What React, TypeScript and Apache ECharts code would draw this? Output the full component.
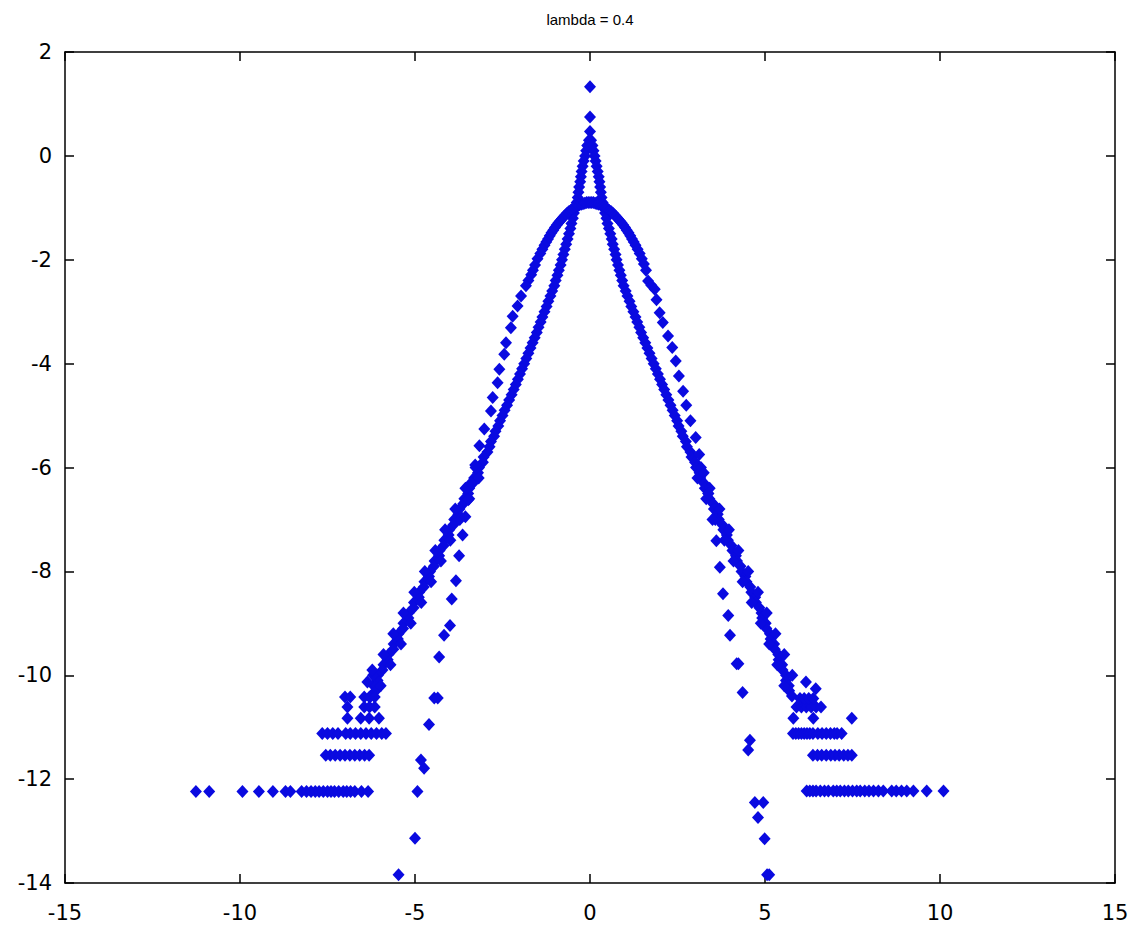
import React, { useEffect, useRef } from "react";
import * as echarts from "echarts";

const titleText = "lambda = 0.4";

// Dense (heavy-tailed) band: shared y values, left and right x positions
const bandY = [
  0.3, 0.2, 0.1, 0, -0.1, -0.2, -0.3, -0.4, -0.5, -0.6,
  -0.7, -0.8, -0.9, -1.0, -1.1, -1.2, -1.3, -1.4, -1.5, -1.6,
  -1.7, -1.8, -1.9, -2.0, -2.1, -2.2, -2.3, -2.4, -2.5, -2.6,
  -2.7, -2.8, -2.9, -3.0, -3.1, -3.2, -3.3, -3.4, -3.5, -3.6,
  -3.7, -3.8, -3.9, -4.0, -4.1, -4.2, -4.3, -4.4, -4.5, -4.6,
  -4.7, -4.8, -4.9, -5.0, -5.1, -5.2, -5.3, -5.4, -5.5, -5.6,
  -5.7, -5.8, -5.9, -6.0, -6.1, -6.2, -6.3, -6.4, -6.5, -6.6,
  -6.7, -6.8, -6.9, -7.0, -7.1, -7.2, -7.3, -7.4, -7.5, -7.6,
  -7.7, -7.8, -7.9, -8.0, -8.1, -8.2, -8.3, -8.4, -8.5, -8.6,
  -8.7, -8.8, -8.9, -9.0, -9.1, -9.2, -9.3, -9.4, -9.5, -9.6,
  -9.7, -9.8, -9.9, -10.0, -10.1, -10.2, -10.3, -10.4,
];
const bandLeftX = [
  -0.03, -0.08, -0.11, -0.14, -0.18, -0.21, -0.24, -0.26, -0.28, -0.31,
  -0.33, -0.35, -0.38, -0.42, -0.46, -0.49, -0.53, -0.56, -0.6, -0.64,
  -0.68, -0.72, -0.76, -0.8, -0.84, -0.89, -0.93, -0.98, -1.02, -1.08,
  -1.13, -1.19, -1.24, -1.3, -1.36, -1.41, -1.47, -1.52, -1.58, -1.64,
  -1.7, -1.76, -1.82, -1.88, -1.94, -2.0, -2.06, -2.12, -2.18, -2.24,
  -2.31, -2.37, -2.44, -2.5, -2.57, -2.62, -2.7, -2.74, -2.83, -2.87,
  -2.93, -3.04, -3.06, -3.17, -3.2, -3.31, -3.34, -3.45, -3.48, -3.59,
  -3.62, -3.73, -3.76, -3.88, -3.9, -4.02, -4.04, -4.16, -4.18, -4.3,
  -4.31, -4.44, -4.46, -4.57, -4.6, -4.73, -4.75, -4.88, -4.89, -5.03,
  -5.04, -5.18, -5.19, -5.33, -5.34, -5.47, -5.49, -5.61, -5.62, -5.76,
  -5.78, -5.9, -5.93, -6.06, -6.07, -6.18, -6.12, -6.26,
];
const bandRightX = [
  0.03, 0.07, 0.1, 0.13, 0.16, 0.19, 0.22, 0.25, 0.27, 0.29,
  0.31, 0.33, 0.36, 0.4, 0.43, 0.47, 0.5, 0.54, 0.58, 0.62,
  0.65, 0.69, 0.73, 0.76, 0.8, 0.84, 0.88, 0.92, 0.96, 1.02,
  1.07, 1.13, 1.18, 1.24, 1.3, 1.35, 1.41, 1.46, 1.52, 1.58,
  1.64, 1.7, 1.76, 1.82, 1.88, 1.94, 2.0, 2.06, 2.12, 2.18,
  2.24, 2.3, 2.36, 2.42, 2.49, 2.53, 2.61, 2.65, 2.74, 2.77,
  2.87, 2.9, 3.0, 3.03, 3.13, 3.15, 3.25, 3.28, 3.38, 3.41,
  3.52, 3.54, 3.65, 3.68, 3.78, 3.81, 3.91, 3.94, 4.04, 4.07,
  4.17, 4.2, 4.3, 4.33, 4.44, 4.47, 4.58, 4.61, 4.72, 4.74,
  4.84, 4.9, 4.92, 5.02, 5.04, 5.14, 5.16, 5.26, 5.28, 5.38,
  5.39, 5.49, 5.5, 5.6, 5.6, 5.68, 5.69, 5.77,
];

const bandSpreadLeft = [
  [-3.27, -6.0], [-3.18, -6.2], [-3.56, -6.4], [-3.45, -6.6], [-3.85, -6.8],
  [-3.72, -7.0], [-4.14, -7.2], [-3.99, -7.4], [-4.42, -7.6], [-4.26, -7.8],
  [-4.72, -8.0], [-4.54, -8.2], [-5.02, -8.4], [-4.82, -8.6], [-5.33, -8.8],
  [-5.12, -9.0], [-5.62, -9.2], [-5.4, -9.4], [-5.9, -9.6], [-5.7, -9.8],
  [-6.2, -10.0], [-5.98, -10.2], [-6.22, -9.9], [-6.36, -10.13],
];
const bandSpreadRight = [
  [3.17, -6.0], [3.07, -6.2], [3.42, -6.4], [3.32, -6.6], [3.7, -6.8],
  [3.58, -7.0], [3.97, -7.2], [3.84, -7.4], [4.24, -7.6], [4.1, -7.8],
  [4.52, -8.0], [4.36, -8.2], [4.8, -8.4], [4.62, -8.6], [5.05, -8.8],
  [4.88, -9.0], [5.3, -9.2], [5.12, -9.4], [5.55, -9.6], [5.35, -9.8],
  [5.78, -10.0], [5.55, -10.2], [6.45, -10.26], [6.17, -10.13],
];

const peakPoints = [[0, 1.33], [0, 0.75], [0, 0.47]];

// Gaussian-like curve
const gaussTop = [
  [-0.35, -0.96], [-0.3, -0.94], [-0.25, -0.93], [-0.2, -0.92], [-0.15, -0.91],
  [-0.1, -0.9], [-0.05, -0.9], [0, -0.9], [0.05, -0.9], [0.1, -0.9],
  [0.15, -0.91], [0.2, -0.92], [0.25, -0.93], [0.3, -0.94], [0.35, -0.96],
];
const gaussLeft = [
  [-0.4, -0.98], [-0.45, -1.0], [-0.5, -1.02], [-0.55, -1.05], [-0.6, -1.07],
  [-0.65, -1.1], [-0.7, -1.14], [-0.75, -1.17], [-0.8, -1.21], [-0.85, -1.25],
  [-0.9, -1.29], [-0.95, -1.33], [-1.0, -1.38], [-1.05, -1.43], [-1.1, -1.48],
  [-1.15, -1.54], [-1.2, -1.6], [-1.25, -1.66], [-1.3, -1.72], [-1.36, -1.8],
  [-1.42, -1.88], [-1.5, -1.98], [-1.57, -2.1], [-1.63, -2.2], [-1.68, -2.29],
  [-1.76, -2.4], [-1.83, -2.5], [-1.97, -2.7], [-2.07, -2.89], [-2.21, -3.09],
  [-2.26, -3.31], [-2.4, -3.6], [-2.45, -3.82], [-2.59, -4.11], [-2.64, -4.37],
  [-2.78, -4.65], [-2.83, -4.91], [-3.02, -5.26], [-3.16, -5.58], [-3.28, -5.95],
  [-3.4, -6.3], [-3.48, -6.62], [-3.56, -6.95], [-3.64, -7.3], [-3.74, -7.7],
  [-3.83, -8.18], [-3.95, -8.53], [-4.0, -9.04], [-4.17, -9.23], [-4.31, -9.65],
  [-4.45, -10.44], [-4.35, -10.44], [-4.6, -10.95], [-4.83, -11.63], [-4.74, -11.79],
  [-4.93, -12.24], [-5.0, -13.14], [-5.47, -13.84],
];
const gaussRight = [
  [0.4, -0.98], [0.45, -1.0], [0.5, -1.02], [0.55, -1.05], [0.6, -1.07],
  [0.65, -1.1], [0.7, -1.14], [0.75, -1.17], [0.8, -1.21], [0.85, -1.25],
  [0.9, -1.29], [0.95, -1.33], [1.0, -1.38], [1.05, -1.43], [1.1, -1.48],
  [1.15, -1.54], [1.2, -1.6], [1.25, -1.66], [1.3, -1.72], [1.36, -1.8],
  [1.42, -1.88], [1.48, -1.98], [1.54, -2.08], [1.6, -2.2], [1.66, -2.41],
  [1.75, -2.49], [1.85, -2.57], [1.9, -2.77], [1.99, -3.02], [2.08, -3.21],
  [2.23, -3.47], [2.35, -3.69], [2.45, -3.95], [2.54, -4.24], [2.66, -4.53],
  [2.75, -4.8], [2.87, -5.1], [3.02, -5.42], [3.12, -5.75], [3.25, -6.1],
  [3.38, -6.5], [3.5, -7.0], [3.61, -7.41], [3.71, -7.92], [3.8, -8.43],
  [3.95, -8.85], [4.0, -9.23], [4.19, -9.78], [4.24, -9.78], [4.36, -10.33],
  [4.57, -11.25], [4.52, -11.44], [4.71, -12.45], [4.95, -12.45], [4.8, -12.74],
  [4.99, -13.15], [5.06, -13.84], [5.12, -13.84],
];

// Quantized tails (rows)
const tailLeft = [
  [-11.26, -12.24], [-10.88, -12.24], [-9.93, -12.24], [-9.46, -12.24], [-9.06, -12.24],
  [-8.7, -12.24], [-8.56, -12.24], [-8.24, -12.24], [-8.1, -12.24], [-7.97, -12.24],
  [-7.85, -12.24], [-7.74, -12.24], [-7.62, -12.24], [-7.5, -12.24], [-7.4, -12.24],
  [-7.3, -12.24], [-7.18, -12.24], [-7.05, -12.24], [-6.95, -12.24], [-6.84, -12.24],
  [-6.72, -12.24], [-6.53, -12.24], [-6.34, -12.24],
  [-7.55, -11.54], [-7.42, -11.54], [-7.28, -11.54], [-7.14, -11.54], [-7.0, -11.54],
  [-6.86, -11.54], [-6.72, -11.54], [-6.58, -11.54], [-6.44, -11.54], [-6.31, -11.54],
  [-7.65, -11.12], [-7.5, -11.12], [-7.35, -11.12], [-7.2, -11.12], [-6.98, -11.12],
  [-6.85, -11.12], [-6.7, -11.12], [-6.55, -11.12], [-6.4, -11.12], [-6.25, -11.12],
  [-6.1, -11.12], [-5.95, -11.12], [-5.83, -11.12],
  [-6.93, -10.83], [-6.55, -10.83], [-6.31, -10.83], [-6.03, -10.83],
  [-6.93, -10.61], [-6.45, -10.61], [-6.3, -10.61], [-6.15, -10.61],
  [-7.0, -10.42], [-6.85, -10.42], [-6.45, -10.42], [-6.3, -10.42], [-6.15, -10.42],
];
const tailRight = [
  [6.19, -12.23], [6.28, -12.23], [6.37, -12.23], [6.46, -12.23], [6.58, -12.23],
  [6.7, -12.23], [6.81, -12.23], [6.95, -12.23], [7.05, -12.23], [7.15, -12.23],
  [7.27, -12.23], [7.38, -12.23], [7.5, -12.23], [7.62, -12.23], [7.72, -12.23],
  [7.85, -12.23], [7.97, -12.23], [8.1, -12.23], [8.24, -12.23], [8.38, -12.23],
  [8.62, -12.23], [8.75, -12.23], [8.9, -12.23], [9.05, -12.23], [9.24, -12.23],
  [9.62, -12.23], [10.1, -12.23],
  [6.37, -11.54], [6.5, -11.54], [6.62, -11.54], [6.75, -11.54], [6.88, -11.54],
  [7.0, -11.54], [7.12, -11.54], [7.25, -11.54], [7.37, -11.54], [7.48, -11.54],
  [5.8, -11.12], [5.88, -11.12], [5.96, -11.12], [6.04, -11.12], [6.12, -11.12],
  [6.2, -11.12], [6.28, -11.12], [6.37, -11.12], [6.51, -11.12], [6.63, -11.12],
  [6.75, -11.12], [6.87, -11.12], [6.98, -11.12], [7.06, -11.12], [7.19, -11.12],
  [5.81, -10.83], [6.38, -10.83], [7.48, -10.83],
  [5.9, -10.61], [6.04, -10.61], [6.18, -10.61], [6.32, -10.61], [6.46, -10.61], [6.6, -10.61],
  [6.0, -10.45], [6.12, -10.45], [6.25, -10.45], [6.38, -10.45],
];

const xMin = -15;
const xMax = 15;
const xStep = 5;
const yMin = -14;
const yMax = 2;
const yStep = 2;

export default function App() {
  const ref = useRef<HTMLDivElement>(null);
  useEffect(() => {
    if (!ref.current) return;
    const chart = echarts.init(ref.current, null, { renderer: "svg" });
    const bandPoints = bandY.flatMap((y, i) => [
      [bandLeftX[i], y],
      [bandRightX[i], y],
    ]);
    const allPoints = [
      ...bandPoints,
      ...bandSpreadLeft,
      ...bandSpreadRight,
      ...peakPoints,
      ...gaussTop,
      ...gaussLeft,
      ...gaussRight,
      ...tailLeft,
      ...tailRight,
    ];
    const lineStyle = { color: "#000", width: 1.5 };
    const labelStyle = {
      color: "#000",
      fontSize: 21,
      fontFamily: "DejaVu Sans",
    };
    const common = {
      type: "value",
      splitLine: { show: false },
      axisLine: { show: true, onZero: false, lineStyle },
      axisTick: { show: true, inside: true, length: 9, lineStyle },
    };
    chart.setOption({
      animation: false,
      backgroundColor: "#fff",
      grid: { left: 65, top: 52, width: 1050, height: 831, containLabel: false },
      xAxis: [
        {
          ...common,
          min: xMin,
          max: xMax,
          interval: xStep,
          position: "bottom",
          axisLabel: { ...labelStyle, margin: 19 },
        },
        {
          ...common,
          min: xMin,
          max: xMax,
          interval: xStep,
          position: "top",
          axisLabel: { show: false },
        },
      ],
      yAxis: [
        {
          ...common,
          min: yMin,
          max: yMax,
          interval: yStep,
          position: "left",
          axisLabel: { ...labelStyle, margin: 13 },
        },
        {
          ...common,
          min: yMin,
          max: yMax,
          interval: yStep,
          position: "right",
          axisLabel: { show: false },
        },
      ],
      graphic: [
        {
          type: "text",
          x: 590,
          y: 19,
          style: {
            text: titleText,
            textAlign: "center",
            textVerticalAlign: "middle",
            verticalAlign: "middle",
            fontSize: 15,
            fontFamily: "Liberation Sans",
            fill: "#000",
          },
        },
      ],
      series: [
        {
          type: "scatter",
          xAxisIndex: 0,
          yAxisIndex: 0,
          symbol: "diamond",
          symbolSize: [12, 13],
          itemStyle: { color: "#0a0ae0", opacity: 1 },
          data: allPoints,
        },
      ],
    });
    return () => chart.dispose();
  }, []);
  return (
    <div
      ref={ref}
      style={{ position: "absolute", left: 0, top: 0, width: 1132, height: 930 }}
    />
  );
}
